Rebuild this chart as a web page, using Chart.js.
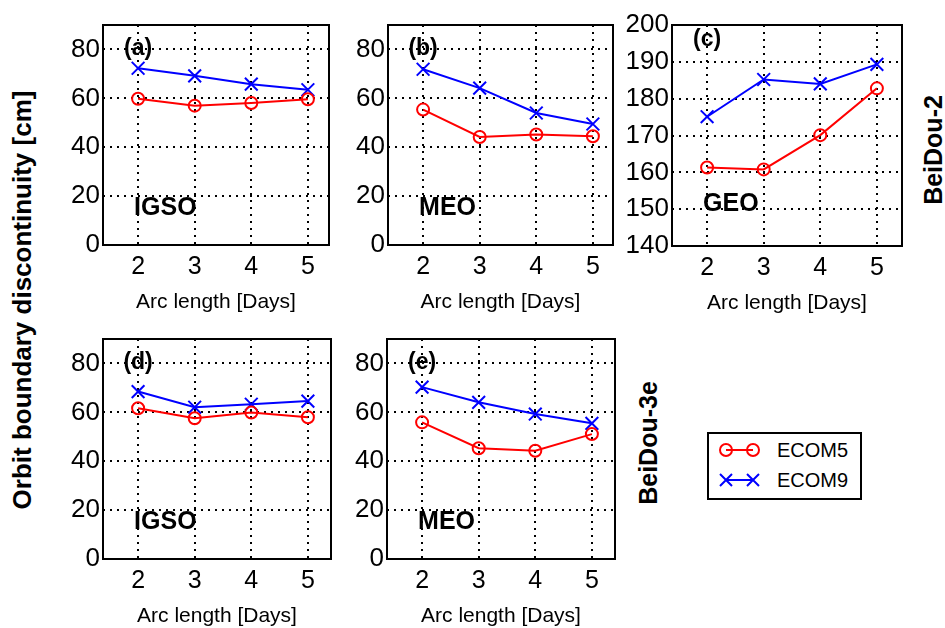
<!DOCTYPE html>
<html>
<head>
<meta charset="utf-8">
<script src="https://cdn.jsdelivr.net/npm/chart.js@4.4.1/dist/chart.umd.min.js"></script>
<style>
  body { margin: 0; background: #fff; width: 945px; height: 628px; position: relative; overflow: hidden;
         font-family: "Liberation Sans", Arial, sans-serif; }
  canvas { position: absolute; }
  .rot { position: absolute; font-weight: bold; font-size: 25px; white-space: nowrap; color: #000;
         transform: translate(-50%, -50%) rotate(-90deg); }
  #legend { position: absolute; left: 707px; top: 432px; }
</style>
</head>
<body>
<div class="rot" style="left:22px;top:300px;font-size:26px">Orbit boundary discontinuity [cm]</div>
<div class="rot" style="left:933px;top:150px">BeiDou-2</div>
<div class="rot" style="left:648px;top:443px">BeiDou-3e</div>

<svg id="legend" width="156" height="70">
  <rect x="1" y="1" width="153" height="66" fill="#fff" stroke="#000" stroke-width="2"/>
  <line x1="19" y1="18" x2="46" y2="18" stroke="#f00" stroke-width="2"/>
  <circle cx="19" cy="18" r="6" fill="none" stroke="#f00" stroke-width="2"/>
  <circle cx="46" cy="18" r="6" fill="none" stroke="#f00" stroke-width="2"/>
  <line x1="19" y1="48" x2="46" y2="48" stroke="#00f" stroke-width="2"/>
  <path d="M13 42 L25 54 M25 42 L13 54 M40 42 L52 54 M52 42 L40 54" stroke="#00f" stroke-width="2"/>
  <text x="70" y="25" font-size="20" font-family="Liberation Sans, Arial, sans-serif">ECOM5</text>
  <text x="70" y="55" font-size="20" font-family="Liberation Sans, Arial, sans-serif">ECOM9</text>
</svg>

<script>
// arc lengths and tick values
const days = [2, 3, 4, 5];
const ticksCm = [0, 20, 40, 60, 80];
const ticksGeo = [140, 150, 160, 170, 180, 190, 200];

// BeiDou-2
const igso2Ecom5 = [59.8, 57.0, 58.1, 59.6];
const igso2Ecom9 = [72.3, 69.2, 65.8, 63.5];
const meo2Ecom5 = [55.4, 44.2, 45.2, 44.5];
const meo2Ecom9 = [71.9, 64.2, 54.0, 49.5];
const geo2Ecom5 = [161.3, 160.8, 170.1, 182.8];
const geo2Ecom9 = [175.1, 185.2, 184.0, 189.3];

// BeiDou-3e
const igso3Ecom5 = [61.7, 57.6, 59.9, 58.0];
const igso3Ecom9 = [68.5, 62.1, 63.3, 64.6];
const meo3Ecom5 = [55.9, 45.3, 44.3, 51.1];
const meo3Ecom9 = [70.3, 64.1, 59.3, 55.5];

Chart.defaults.font.family = '"Liberation Sans", Arial, sans-serif';
Chart.defaults.color = '#000';

// box = [left, top, right, bottom] of the plot frame on the page
const panels = [
  { tag: '(a)', orbit: 'IGSO', e5: igso2Ecom5, e9: igso2Ecom9, yTicks: ticksCm, yMin: 0, yMax: 90, box: [103, 25, 329, 245], tagAt: 80.5, nameAt: 15 },
  { tag: '(b)', orbit: 'MEO', e5: meo2Ecom5, e9: meo2Ecom9, yTicks: ticksCm, yMin: 0, yMax: 90, box: [388, 25, 613, 245], tagAt: 80.5, nameAt: 15 },
  { tag: '(c)', orbit: 'GEO', e5: geo2Ecom5, e9: geo2Ecom9, yTicks: ticksGeo, yMin: 140, yMax: 200, box: [672, 25, 902, 246], tagAt: 196, nameAt: 151.5 },
  { tag: '(d)', orbit: 'IGSO', e5: igso3Ecom5, e9: igso3Ecom9, yTicks: ticksCm, yMin: 0, yMax: 90, box: [103, 339, 331, 559], tagAt: 80.5, nameAt: 15 },
  { tag: '(e)', orbit: 'MEO', e5: meo3Ecom5, e9: meo3Ecom9, yTicks: ticksCm, yMin: 0, yMax: 90, box: [387, 339, 615, 559], tagAt: 80.5, nameAt: 15 },
];

// frame around the axes plus the panel tag and orbit name
const framePlugin = {
  id: 'frame',
  afterDraw(chart, args, opts) {
    const { ctx, chartArea: a, scales: { x, y } } = chart;
    ctx.save();
    ctx.setLineDash([]);
    ctx.strokeStyle = '#000';
    ctx.lineWidth = 2;
    ctx.strokeRect(a.left, a.top, a.width, a.height);
    ctx.fillStyle = '#000';
    ctx.textBaseline = 'middle';
    ctx.textAlign = 'center';
    ctx.font = 'bold 23px "Liberation Sans", Arial, sans-serif';
    ctx.fillText(opts.tag, x.getPixelForValue(2), y.getPixelForValue(opts.tagAt));
    ctx.textAlign = 'left';
    ctx.font = 'bold 25px "Liberation Sans", Arial, sans-serif';
    ctx.fillText(opts.orbit, x.getPixelForValue(2) - 4, y.getPixelForValue(opts.nameAt));
    ctx.restore();
  }
};

const toPoints = (vals) => days.map((d, i) => ({ x: d, y: vals[i] }));

panels.forEach((p) => {
  const [l, t, r, b] = p.box;
  const W = 64, PT = 25, PR = 15, H = 70;
  const cv = document.createElement('canvas');
  cv.width = (r - l) + W + PR;
  cv.height = (b - t) + PT + H;
  cv.style.left = (l - W) + 'px';
  cv.style.top = (t - PT) + 'px';
  document.body.appendChild(cv);

  const xMin = 1.38;
  const xMax = xMin + (r - l) / 56.6;

  new Chart(cv, {
    type: 'line',
    data: {
      datasets: [
        {
          label: 'ECOM5',
          data: toPoints(p.e5),
          borderColor: '#ff0000',
          borderWidth: 2,
          pointStyle: 'circle',
          pointRadius: 6,
          pointBorderWidth: 2,
          pointBorderColor: '#ff0000',
          pointBackgroundColor: 'rgba(0,0,0,0)',
        },
        {
          label: 'ECOM9',
          data: toPoints(p.e9),
          borderColor: '#0000ff',
          borderWidth: 2,
          pointStyle: 'crossRot',
          pointRadius: 9,
          pointBorderWidth: 2,
          pointBorderColor: '#0000ff',
        },
      ],
    },
    options: {
      responsive: false,
      animation: false,
      devicePixelRatio: 1,
      layout: { padding: { left: 0, top: PT, right: PR, bottom: 0 } },
      plugins: {
        legend: { display: false },
        tooltip: { enabled: false },
        frame: { tag: p.tag, orbit: p.orbit, tagAt: p.tagAt, nameAt: p.nameAt },
      },
      scales: {
        x: {
          type: 'linear',
          min: xMin,
          max: xMax,
          afterBuildTicks: (s) => { s.ticks = days.map((v) => ({ value: v })); },
          afterFit: (s) => { s.height = H; },
          grid: { color: '#000', lineWidth: 2, drawTicks: false },
          border: { display: false, dash: [2, 5] },
          ticks: { padding: 7, font: { size: 25 } },
          title: { display: true, text: 'Arc length [Days]', font: { size: 21 }, padding: 0 },
        },
        y: {
          type: 'linear',
          min: p.yMin,
          max: p.yMax,
          afterBuildTicks: (s) => { s.ticks = p.yTicks.map((v) => ({ value: v })); },
          afterFit: (s) => { s.width = W; },
          grid: { color: '#000', lineWidth: 2, drawTicks: false },
          border: { display: false, dash: [2, 5] },
          ticks: { padding: 3, font: { size: 26 } },
        },
      },
    },
    plugins: [framePlugin],
  });
});
</script>
</body>
</html>
